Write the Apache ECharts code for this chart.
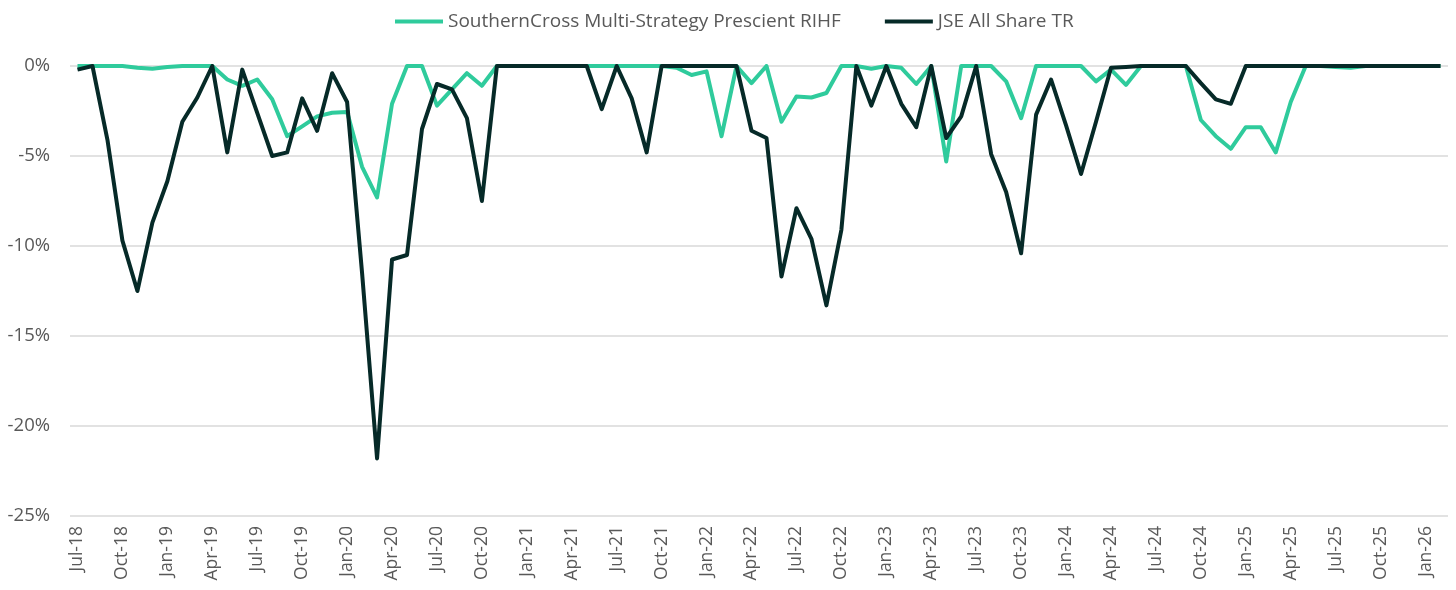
<!DOCTYPE html>
<html>
<head>
<meta charset="utf-8">
<script src="https://cdn.jsdelivr.net/npm/echarts@6/dist/echarts.min.js"></script>
<style>
html,body{margin:0;padding:0;background:#fff;}
#chart{width:1456px;height:590px;}
</style>
</head>
<body>
<div id="chart"></div>
<script>
var categories = [
 "Jul-18","Aug-18","Sep-18","Oct-18","Nov-18","Dec-18",
 "Jan-19","Feb-19","Mar-19","Apr-19","May-19","Jun-19","Jul-19","Aug-19","Sep-19","Oct-19","Nov-19","Dec-19",
 "Jan-20","Feb-20","Mar-20","Apr-20","May-20","Jun-20","Jul-20","Aug-20","Sep-20","Oct-20","Nov-20","Dec-20",
 "Jan-21","Feb-21","Mar-21","Apr-21","May-21","Jun-21","Jul-21","Aug-21","Sep-21","Oct-21","Nov-21","Dec-21",
 "Jan-22","Feb-22","Mar-22","Apr-22","May-22","Jun-22","Jul-22","Aug-22","Sep-22","Oct-22","Nov-22","Dec-22",
 "Jan-23","Feb-23","Mar-23","Apr-23","May-23","Jun-23","Jul-23","Aug-23","Sep-23","Oct-23","Nov-23","Dec-23",
 "Jan-24","Feb-24","Mar-24","Apr-24","May-24","Jun-24","Jul-24","Aug-24","Sep-24","Oct-24","Nov-24","Dec-24",
 "Jan-25","Feb-25","Mar-25","Apr-25","May-25","Jun-25","Jul-25","Aug-25","Sep-25","Oct-25","Nov-25","Dec-25",
 "Jan-26","Feb-26"
];

var seriesNames = ["SouthernCross Multi-Strategy Prescient RIHF", "JSE All Share TR"];

var southernCross = [
 0, 0, 0, 0, -0.1, -0.15,
 -0.05, 0, 0, 0, -0.75, -1.1, -0.75, -1.85, -3.9, -3.35, -2.8, -2.6,
 -2.55, -5.6, -7.3, -2.1, 0, 0, -2.2, -1.3, -0.4, -1.1, 0, 0,
 0, 0, 0, 0, 0, 0, 0, 0, 0, 0, -0.1, -0.5,
 -0.3, -3.9, 0, -0.95, 0, -3.1, -1.7, -1.75, -1.5, 0, 0, -0.15,
 0, -0.1, -1.0, 0, -5.3, 0, 0, 0, -0.85, -2.9, 0, 0,
 0, 0, -0.85, -0.2, -1.05, 0, 0, 0, 0, -3.0, -3.9, -4.6,
 -3.4, -3.4, -4.8, -2.0, 0, 0, -0.05, -0.1, 0, 0, 0, 0,
 0, 0
];

var jseAllShare = [
 -0.2, 0, -4.1, -9.7, -12.5, -8.7,
 -6.4, -3.1, -1.75, 0, -4.8, -0.2, -2.6, -5.0, -4.8, -1.8, -3.6, -0.4,
 -2.0, -11.5, -21.8, -10.75, -10.5, -3.5, -1.0, -1.3, -2.9, -7.5, 0, 0,
 0, 0, 0, 0, 0, -2.4, 0, -1.8, -4.8, 0, 0, 0,
 0, 0, 0, -3.6, -4.0, -11.7, -7.9, -9.6, -13.3, -9.1, 0, -2.2,
 0, -2.1, -3.4, 0, -4.0, -2.8, 0, -4.9, -7.0, -10.4, -2.7, -0.75,
 -3.3, -6.0, -3.1, -0.1, -0.05, 0, 0, 0, 0, -0.95, -1.85, -2.1,
 0, 0, 0, 0, 0, 0, 0, 0, 0, 0, 0, 0,
 0, 0
];

var yMin = -25, yMax = 0, yStep = 5;
var colors = ["#2fcb9c", "#062a28"];
var fontFamily = "'Open Sans', sans-serif";
var textColor = "#595959";

var chart = echarts.init(document.getElementById('chart'), null, {renderer: 'canvas'});
chart.setOption({
  animation: false,
  color: colors,
  legend: {
    top: 7,
    left: 390,
    itemWidth: 48,
    itemHeight: 4,
    itemGap: 44,
    icon: 'rect',
    textStyle: {color: textColor, fontSize: 19, fontFamily: fontFamily},
    data: seriesNames
  },
  grid: {left: 70, right: 8, top: 66, bottom: 74, containLabel: false},
  xAxis: {
    type: 'category',
    data: categories,
    boundaryGap: true,
    axisLine: {show: false},
    axisTick: {show: false},
    axisLabel: {
      interval: 2,
      rotate: 90,
      margin: 10,
      color: textColor,
      fontSize: 17.5,
      fontFamily: fontFamily
    },
    splitLine: {show: false}
  },
  yAxis: {
    type: 'value',
    min: yMin,
    max: yMax,
    interval: yStep,
    axisLine: {show: false},
    axisTick: {show: false},
    axisLabel: {
      formatter: function (v) { return v + '%'; },
      color: textColor,
      fontSize: 18.5,
      fontFamily: fontFamily,
      margin: 20
    },
    splitLine: {lineStyle: {color: '#d9d9d9', width: 1.5}}
  },
  series: [
    {
      name: seriesNames[0],
      type: 'line',
      data: southernCross,
      symbol: 'none',
      lineStyle: {width: 4, color: colors[0], join: 'round'},
      z: 2
    },
    {
      name: seriesNames[1],
      type: 'line',
      data: jseAllShare,
      symbol: 'none',
      lineStyle: {width: 4, color: colors[1], join: 'round'},
      z: 3
    }
  ]
});
</script>
</body>
</html>
